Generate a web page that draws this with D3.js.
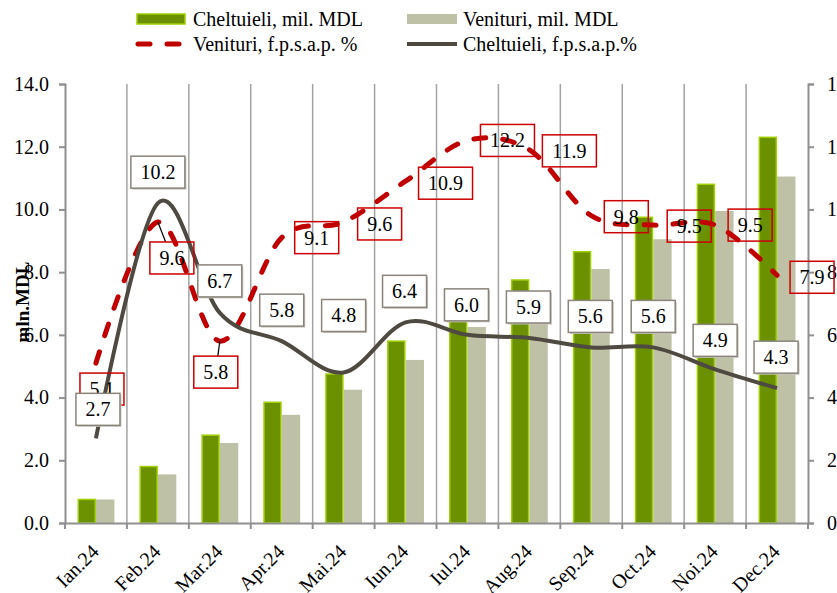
<!DOCTYPE html>
<html>
<head>
<meta charset="utf-8">
<script src="https://cdn.jsdelivr.net/npm/d3@7"></script>
<style>
  body { margin: 0; background: #fff; }
  svg { display: block; font-family: "Liberation Serif", "Times New Roman", serif; }
</style>
</head>
<body>
<div id="chart"></div>
<script>
var months = ["Ian.24", "Feb.24", "Mar.24", "Apr.24", "Mai.24", "Iun.24",
  "Iul.24", "Aug.24", "Sep.24", "Oct.24", "Noi.24", "Dec.24"];
var cheltuieliMDL = [0.75, 1.8, 2.8, 3.85, 4.75, 5.8, 6.5, 7.75, 8.65, 9.75, 10.8, 12.3];
var venituriMDL = [0.75, 1.55, 2.55, 3.45, 4.25, 5.2, 6.25, 7.1, 8.1, 9.05, 9.95, 11.05];
var venituriPct = [5.1, 9.6, 5.8, 9.1, 9.6, 10.9, 12.2, 11.9, 9.8, 9.5, 9.5, 7.9];
var cheltuieliPct = [2.7, 10.2, 6.7, 5.8, 4.8, 6.4, 6.0, 5.9, 5.6, 5.6, 4.9, 4.3];
var yTicks = [0, 2, 4, 6, 8, 10, 12, 14];

// label placement (pixel offsets from the point), as in the original
var redOffset = [[6, 26], [14, 36], [-4, 31], [35, 0], [36, 2], [40, 2], [40, 0], [40, 1], [35, 1], [36, 1], [35, 0], [35, 2]];
var redLeader = [false, true, true, false, false, false, false, false, false, false, false, false];
var grayOffset = [[2, -29], [0, -31], [0, -32], [0, -31], [0, -57], [-1, -31], [-1, -30], [-1, -31], [-1, -31], [0, -31], [0, -29], [-1, -31]];

var w = 837, h = 593;
var pLeft = 65, pRight = 808, pTop = 84, pBottom = 523;

var green = "#6b9000", greenEdge = "#9fd000", beige = "#bfc1a7";
var red = "#c00000", dark = "#4f4a41", gridCol = "#a3a3a3", axisCol = "#8f8f8f";

var svg = d3.select("#chart").append("svg").attr("width", w).attr("height", h);

var x = d3.scaleBand().domain(months).range([pLeft, pRight]).padding(0);
var xs = d3.scaleBand().domain(["c", "v"]).range([0, x.bandwidth()]).paddingInner(0).paddingOuter(0.68);
var y = d3.scaleLinear().domain([0, 14]).range([pBottom, pTop]);
var cx = (i) => x(months[i]) + x.bandwidth() / 2;

// vertical grid at category boundaries
svg.append("g").selectAll("line").data(months.slice(1)).join("line")
  .attr("x1", (d) => x(d)).attr("x2", (d) => x(d))
  .attr("y1", pTop).attr("y2", pBottom)
  .attr("stroke", gridCol).attr("stroke-width", 1.5);

// bars
var bars = svg.append("g");
bars.selectAll(".bc").data(cheltuieliMDL).join("rect")
  .attr("class", "bc")
  .attr("x", (d, i) => x(months[i]) + xs("c") + 0.75)
  .attr("y", (d) => y(d))
  .attr("width", xs.bandwidth() - 1.5)
  .attr("height", (d) => pBottom - y(d))
  .attr("fill", green).attr("stroke", greenEdge).attr("stroke-width", 1.5);
bars.selectAll(".bv").data(venituriMDL).join("rect")
  .attr("class", "bv")
  .attr("x", (d, i) => x(months[i]) + xs("v"))
  .attr("y", (d) => y(d))
  .attr("width", xs.bandwidth())
  .attr("height", (d) => pBottom - y(d))
  .attr("fill", beige);

// axes
var yl = svg.append("g").attr("transform", `translate(${pLeft},0)`)
  .call(d3.axisLeft(y).tickValues(yTicks).tickFormat(d3.format(".1f")).tickSizeOuter(0).tickSize(6).tickPadding(10));
var yr = svg.append("g").attr("transform", `translate(${pRight},0)`)
  .call(d3.axisRight(y).tickValues(yTicks).tickFormat(d3.format(".1f")).tickSizeOuter(0).tickSize(6).tickPadding(13));
var xa = svg.append("g").attr("transform", `translate(0,${pBottom})`)
  .call(d3.axisBottom(x).tickSize(0).tickSizeOuter(0).tickFormat(""));
xa.selectAll(".tick").remove();
svg.append("g").selectAll("line").data(months.concat(["end"])).join("line")
  .attr("x1", (d, i) => pLeft + i * x.step()).attr("x2", (d, i) => pLeft + i * x.step())
  .attr("y1", pBottom).attr("y2", pBottom + 6)
  .attr("stroke", axisCol).attr("stroke-width", 2);

[yl, yr, xa].forEach((g) => {
  g.select(".domain").attr("stroke", axisCol).attr("stroke-width", 2);
  g.selectAll(".tick line").attr("stroke", axisCol).attr("stroke-width", 2);
  g.selectAll(".tick text").attr("font-size", 20).attr("fill", "#000")
    .attr("font-family", "Liberation Serif");
});

// month labels
svg.append("g").selectAll("text").data(months).join("text")
  .attr("transform", (d, i) => `translate(${cx(i) + 4},${pBottom + 30}) rotate(-45)`)
  .attr("text-anchor", "end")
  .attr("font-size", 20)
  .text((d) => d);

// y title
svg.append("text")
  .attr("transform", "translate(29,302) rotate(-90)")
  .attr("text-anchor", "middle")
  .attr("font-size", 19).attr("font-weight", "bold")
  .text("mln.MDL");

// lines
var line = d3.line().x((d, i) => cx(i)).y((d) => y(d)).curve(d3.curveCatmullRom.alpha(0));
svg.append("path").datum(venituriPct).attr("d", line)
  .attr("fill", "none").attr("stroke", red).attr("stroke-width", 5)
  .attr("stroke-dasharray", "12,17").attr("stroke-linecap", "round");
svg.append("path").datum(cheltuieliPct).attr("d", line)
  .attr("fill", "none").attr("stroke", dark).attr("stroke-width", 4);

// data labels
function labels(values, offs, opts) {
  var g = svg.append("g");
  values.forEach((v, i) => {
    var txt = d3.format(".1f")(v);
    var bw = txt.length * 10 + 14;
    var bh = 32;
    var px = cx(i), py = y(v);
    var lx = px + offs[i][0], ly = py + offs[i][1];
    if (opts.leader && opts.leader[i]) {
      var ty = offs[i][1] < 0 ? ly + bh / 2 : ly - bh / 2;
      var tx = px + (lx - px) * ((ty - py) / (ly - py));
      g.append("line").attr("x1", px).attr("y1", py).attr("x2", tx).attr("y2", ty)
        .attr("stroke", "#000").attr("stroke-width", 1.2);
    }
    if (opts.shadow) {
      g.append("rect").attr("x", lx - bw / 2 + 1.5).attr("y", ly - bh / 2 + 1.5)
        .attr("width", bw).attr("height", bh).attr("fill", "#c9c6c0");
    }
    g.append("rect").attr("x", lx - bw / 2).attr("y", ly - bh / 2)
      .attr("width", bw).attr("height", bh)
      .attr("fill", opts.fill).attr("stroke", opts.stroke).attr("stroke-width", 1.5);
    g.append("text").attr("x", lx).attr("y", ly + 7)
      .attr("text-anchor", "middle").attr("font-size", 20).text(txt);
  });
}
labels(venituriPct, redOffset, { fill: "none", stroke: "#cc0000", leader: redLeader });
labels(cheltuieliPct, grayOffset, { fill: "#fff", stroke: "#8a847a", shadow: true });

// legend
var lg = svg.append("g").attr("font-size", 20);
lg.append("rect").attr("x", 137).attr("y", 14).attr("width", 48).attr("height", 10)
  .attr("fill", green).attr("stroke", greenEdge).attr("stroke-width", 1.5);
lg.append("text").attr("x", 193).attr("y", 26).text("Cheltuieli, mil. MDL");
lg.append("rect").attr("x", 407).attr("y", 14).attr("width", 50).attr("height", 10)
  .attr("fill", beige);
lg.append("text").attr("x", 463).attr("y", 26).text("Venituri, mil. MDL");
lg.append("line").attr("x1", 138).attr("x2", 181).attr("y1", 44).attr("y2", 44)
  .attr("stroke", red).attr("stroke-width", 5).attr("stroke-linecap", "round")
  .attr("stroke-dasharray", "12,17");
lg.append("text").attr("x", 193).attr("y", 51).text("Venituri, f.p.s.a.p. %");
lg.append("line").attr("x1", 407).attr("x2", 457).attr("y1", 44).attr("y2", 44)
  .attr("stroke", dark).attr("stroke-width", 4);
lg.append("text").attr("x", 463).attr("y", 51).text("Cheltuieli, f.p.s.a.p.%");
</script>
</body>
</html>
